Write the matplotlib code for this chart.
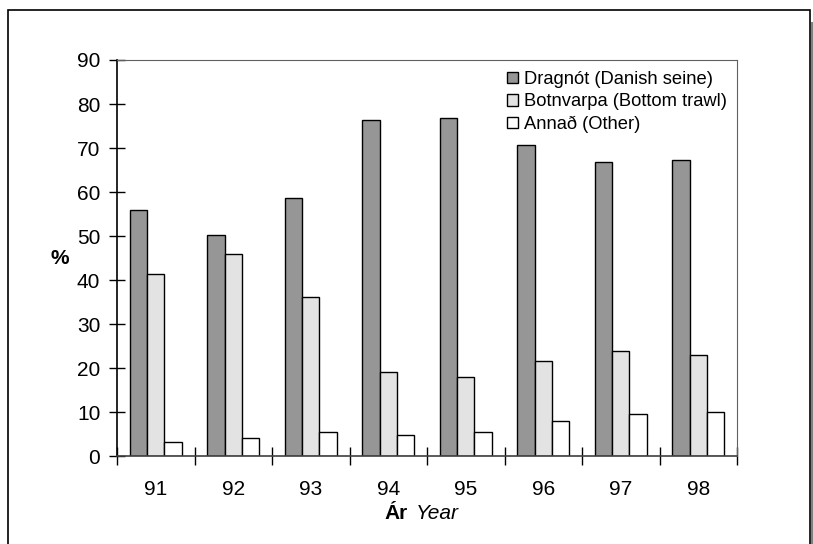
import matplotlib
matplotlib.use("Agg")
import matplotlib.pyplot as plt
from matplotlib.patches import Rectangle
import numpy as np

plt.rcParams['font.family'] = ['Liberation Sans', 'DejaVu Sans']

# data
years = ["91", "92", "93", "94", "95", "96", "97", "98"]
dragnot = [55.8, 50.2, 58.6, 76.3, 76.9, 70.7, 66.8, 67.3]
botnvarpa = [41.3, 46.0, 36.2, 19.1, 17.9, 21.5, 23.9, 22.9]
annad = [3.2, 4.2, 5.4, 4.8, 5.5, 8.0, 9.5, 9.9]

series_names = ["Dragnót (Danish seine)", "Botnvarpa (Bottom trawl)", "Annað (Other)"]
colors = ["#969696", "#e3e3e3", "#ffffff"]

fig = plt.figure(figsize=(8.13, 5.44), dpi=100)

# outer frame with a little shadow on the right
fig.patches.append(Rectangle((811 / 813, -0.1), 2 / 813, 1.1 - 22 / 544, transform=fig.transFigure,
                             facecolor="#808080", edgecolor="none"))
fig.patches.append(Rectangle((8 / 813, -0.1), 802 / 813, 1.1 - 10 / 544, transform=fig.transFigure,
                             facecolor="none", edgecolor="black", linewidth=1.2))

ax = fig.add_axes([117 / 813, 1 - 456 / 544, 620 / 813, 396 / 544])

x = np.arange(len(years))
w = 1 / 4.5
for i, (vals, name, col) in enumerate(zip([dragnot, botnvarpa, annad], series_names, colors)):
    ax.bar(x + (i - 1) * w, vals, width=w, color=col, edgecolor="black", linewidth=1.0, label=name)

ax.set_xlim(-0.5, len(years) - 0.5)
ax.set_ylim(0, 90)
ax.set_yticks(range(0, 91, 10))
ax.tick_params(axis="y", direction="inout", length=12, width=1.0, labelsize=15, pad=6)

# ticks between groups, labels at group centres
ax.set_xticks(np.arange(-0.5, len(years)), labels=[""] * (len(years) + 1))
ax.set_xticks(x, labels=years, minor=True)
ax.tick_params(axis="x", which="major", direction="inout", length=13, width=1.0)
ax.tick_params(axis="x", which="minor", length=0, labelsize=15, pad=17)

for side in ["top", "right"]:
    ax.spines[side].set_color("#606060")
    ax.spines[side].set_linewidth(0.8)
ax.spines["left"].set_linewidth(1.2)
ax.spines["bottom"].set_linewidth(1.2)
ax.spines["bottom"].set_color("#404040")

ax.text(-0.092, 0.5, "%", transform=ax.transAxes, fontsize=15, fontweight="bold",
        ha="center", va="center")
ax.text(0.469, -0.144, "Ár", transform=ax.transAxes, fontsize=15, fontweight="bold",
        ha="right", va="center")
ax.text(0.482, -0.144, "Year", transform=ax.transAxes, fontsize=15, style="italic",
        ha="left", va="center")

ax.legend(loc="upper left", bbox_to_anchor=(507 / 813, 1 - 71 / 544), bbox_transform=fig.transFigure,
          frameon=False, fontsize=13.2, handlelength=0.62, handleheight=0.62,
          handletextpad=0.33, labelspacing=0.29, borderaxespad=0, borderpad=0)

fig.savefig("out.png", dpi=100)
